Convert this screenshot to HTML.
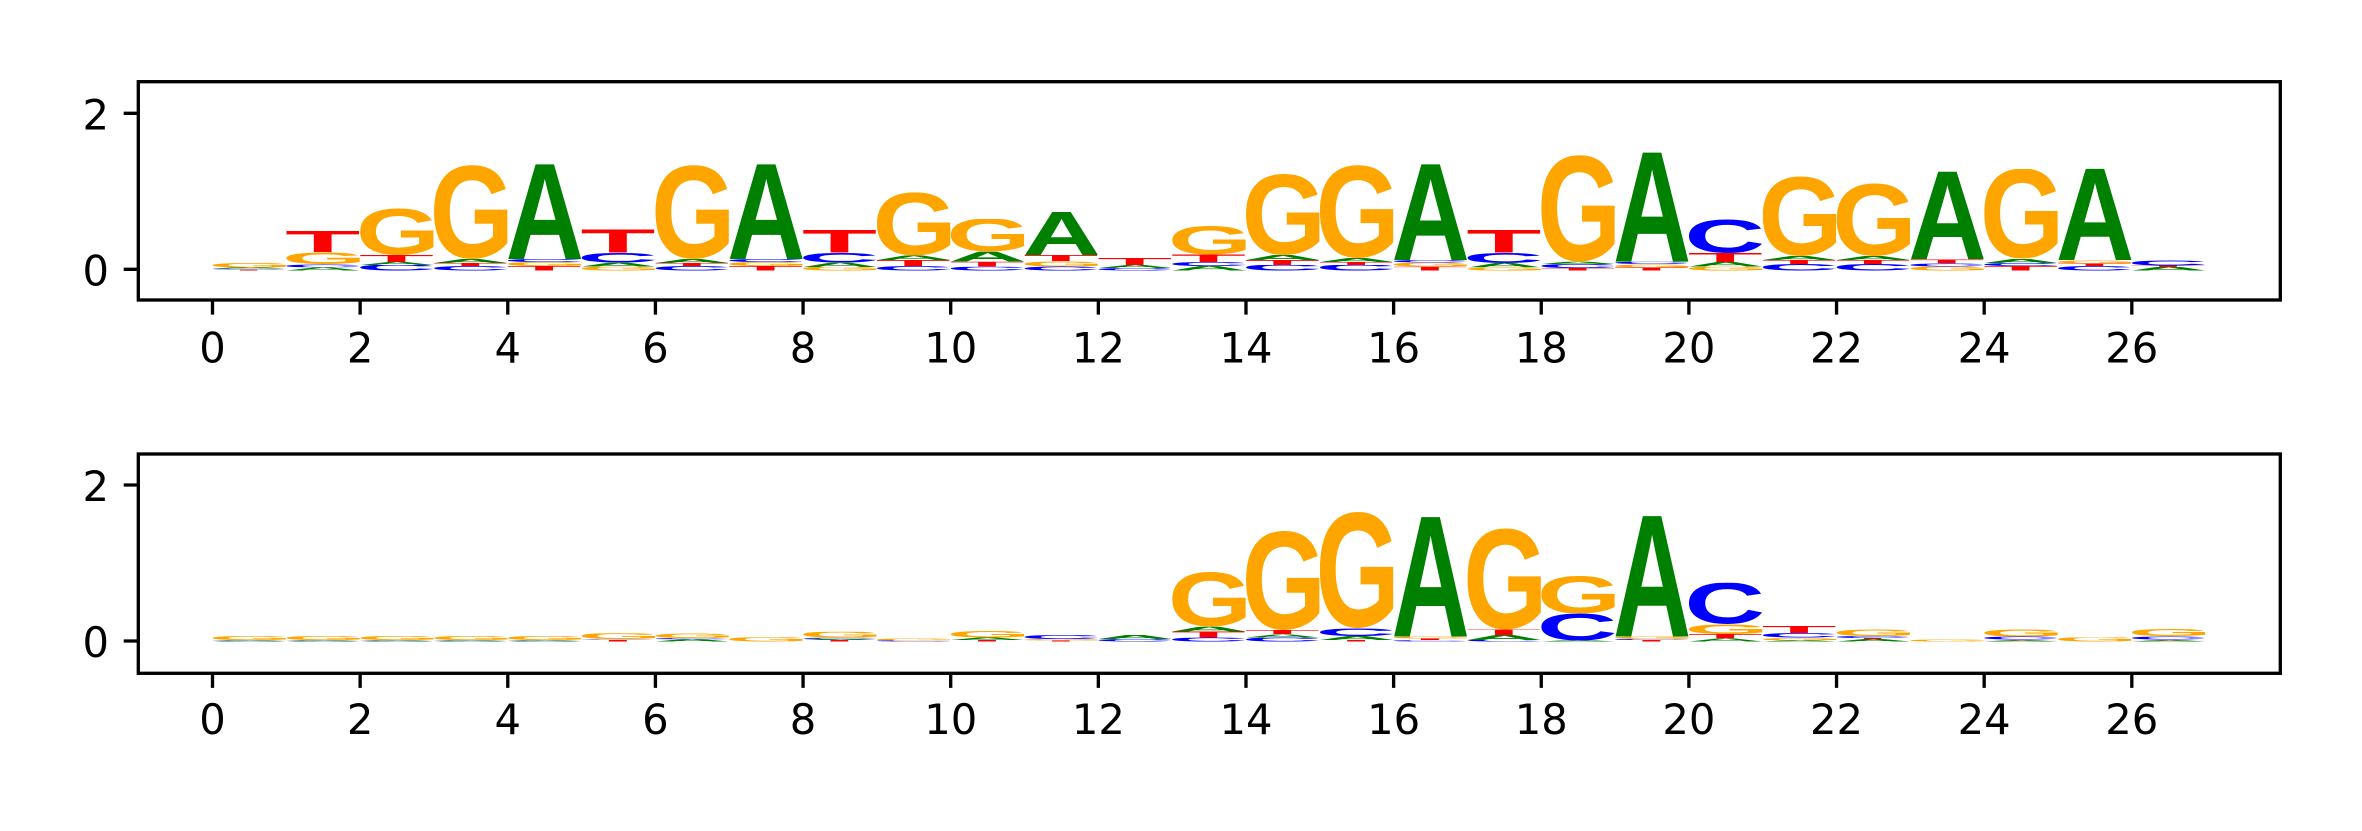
<!DOCTYPE html>
<html><head><meta charset="utf-8">
<style>
html,body{margin:0;padding:0;background:#fff;}
body{width:2362px;height:826px;overflow:hidden;}
svg svg text{font-family:"Liberation Sans",Arial,sans-serif;font-weight:bold;font-size:100px;}
svg.a text{fill:#008000} svg.c text{fill:#0000ff} svg.g text{fill:#ffa500} svg.t text{fill:#ff0000}
.lbl{font-family:"DejaVu Sans","Liberation Sans",sans-serif;font-size:41.67px;fill:#000;}
</style></head><body>
<svg xmlns="http://www.w3.org/2000/svg" width="2362" height="826" viewBox="0 0 2362 826">
<rect width="2362" height="826" fill="#fff"/>
<!-- TOP PANEL LOGO -->
<svg class="t" x="212.5" y="269.7" width="73.82" height="1" viewBox="2 -71.6 57 71.6" preserveAspectRatio="none"><text>T</text></svg>
<svg class="c" x="212.5" y="268.7" width="73.82" height="1" viewBox="4.7 -72.8 62.8 74.2" preserveAspectRatio="none"><text>C</text></svg>
<svg class="a" x="212.5" y="267.5" width="73.82" height="1.2" viewBox="0 -71.6 72.2 71.6" preserveAspectRatio="none"><text>A</text></svg>
<svg class="g" x="212.5" y="262.7" width="73.82" height="4.8" viewBox="4.6 -72.8 67.3 74.2" preserveAspectRatio="none"><text>G</text></svg>

<svg class="a" x="286.32" y="267.3" width="73.82" height="3.4" viewBox="0 -71.6 72.2 71.6" preserveAspectRatio="none"><text>A</text></svg>
<svg class="c" x="286.32" y="264" width="73.82" height="3.3" viewBox="4.7 -72.8 62.8 74.2" preserveAspectRatio="none"><text>C</text></svg>
<svg class="g" x="286.32" y="252" width="73.82" height="12" viewBox="4.6 -72.8 67.3 74.2" preserveAspectRatio="none"><text>G</text></svg>
<svg class="t" x="286.32" y="230.7" width="73.82" height="21.3" viewBox="2 -71.6 57 71.6" preserveAspectRatio="none"><text>T</text></svg>

<svg class="c" x="360.14" y="265" width="73.82" height="5.7" viewBox="4.7 -72.8 62.8 74.2" preserveAspectRatio="none"><text>C</text></svg>
<svg class="a" x="360.14" y="262" width="73.82" height="3" viewBox="0 -71.6 72.2 71.6" preserveAspectRatio="none"><text>A</text></svg>
<svg class="t" x="360.14" y="255" width="73.82" height="7" viewBox="2 -71.6 57 71.6" preserveAspectRatio="none"><text>T</text></svg>
<svg class="g" x="360.14" y="208.3" width="73.82" height="46.7" viewBox="4.6 -72.8 67.3 74.2" preserveAspectRatio="none"><text>G</text></svg>

<svg class="c" x="433.96" y="266" width="73.82" height="4.7" viewBox="4.7 -72.8 62.8 74.2" preserveAspectRatio="none"><text>C</text></svg>
<svg class="t" x="433.96" y="263" width="73.82" height="3" viewBox="2 -71.6 57 71.6" preserveAspectRatio="none"><text>T</text></svg>
<svg class="a" x="433.96" y="259" width="73.82" height="4" viewBox="0 -71.6 72.2 71.6" preserveAspectRatio="none"><text>A</text></svg>
<svg class="g" x="433.96" y="165" width="73.82" height="94" viewBox="4.6 -72.8 67.3 74.2" preserveAspectRatio="none"><text>G</text></svg>

<svg class="t" x="507.78" y="266" width="73.82" height="4.7" viewBox="2 -71.6 57 71.6" preserveAspectRatio="none"><text>T</text></svg>
<svg class="g" x="507.78" y="262" width="73.82" height="4" viewBox="4.6 -72.8 67.3 74.2" preserveAspectRatio="none"><text>G</text></svg>
<svg class="c" x="507.78" y="259" width="73.82" height="3" viewBox="4.7 -72.8 62.8 74.2" preserveAspectRatio="none"><text>C</text></svg>
<svg class="a" x="507.78" y="162.7" width="73.82" height="96.3" viewBox="0 -71.6 72.2 71.6" preserveAspectRatio="none"><text>A</text></svg>

<svg class="g" x="581.6" y="266.7" width="73.82" height="4" viewBox="4.6 -72.8 67.3 74.2" preserveAspectRatio="none"><text>G</text></svg>
<svg class="a" x="581.6" y="262.7" width="73.82" height="4" viewBox="0 -71.6 72.2 71.6" preserveAspectRatio="none"><text>A</text></svg>
<svg class="c" x="581.6" y="252.7" width="73.82" height="10" viewBox="4.7 -72.8 62.8 74.2" preserveAspectRatio="none"><text>C</text></svg>
<svg class="t" x="581.6" y="229.3" width="73.82" height="23.4" viewBox="2 -71.6 57 71.6" preserveAspectRatio="none"><text>T</text></svg>

<svg class="c" x="655.42" y="266" width="73.82" height="4.7" viewBox="4.7 -72.8 62.8 74.2" preserveAspectRatio="none"><text>C</text></svg>
<svg class="t" x="655.42" y="263" width="73.82" height="3" viewBox="2 -71.6 57 71.6" preserveAspectRatio="none"><text>T</text></svg>
<svg class="a" x="655.42" y="259" width="73.82" height="4" viewBox="0 -71.6 72.2 71.6" preserveAspectRatio="none"><text>A</text></svg>
<svg class="g" x="655.42" y="165" width="73.82" height="94" viewBox="4.6 -72.8 67.3 74.2" preserveAspectRatio="none"><text>G</text></svg>

<svg class="t" x="729.24" y="266" width="73.82" height="4.7" viewBox="2 -71.6 57 71.6" preserveAspectRatio="none"><text>T</text></svg>
<svg class="g" x="729.24" y="262" width="73.82" height="4" viewBox="4.6 -72.8 67.3 74.2" preserveAspectRatio="none"><text>G</text></svg>
<svg class="c" x="729.24" y="259" width="73.82" height="3" viewBox="4.7 -72.8 62.8 74.2" preserveAspectRatio="none"><text>C</text></svg>
<svg class="a" x="729.24" y="162.7" width="73.82" height="96.3" viewBox="0 -71.6 72.2 71.6" preserveAspectRatio="none"><text>A</text></svg>

<svg class="g" x="803.06" y="267" width="73.82" height="3.7" viewBox="4.6 -72.8 67.3 74.2" preserveAspectRatio="none"><text>G</text></svg>
<svg class="a" x="803.06" y="262.7" width="73.82" height="4.3" viewBox="0 -71.6 72.2 71.6" preserveAspectRatio="none"><text>A</text></svg>
<svg class="c" x="803.06" y="252.7" width="73.82" height="10" viewBox="4.7 -72.8 62.8 74.2" preserveAspectRatio="none"><text>C</text></svg>
<svg class="t" x="803.06" y="230" width="73.82" height="22.7" viewBox="2 -71.6 57 71.6" preserveAspectRatio="none"><text>T</text></svg>

<svg class="c" x="876.88" y="266" width="73.82" height="4.7" viewBox="4.7 -72.8 62.8 74.2" preserveAspectRatio="none"><text>C</text></svg>
<svg class="t" x="876.88" y="260" width="73.82" height="6" viewBox="2 -71.6 57 71.6" preserveAspectRatio="none"><text>T</text></svg>
<svg class="a" x="876.88" y="255.5" width="73.82" height="4.5" viewBox="0 -71.6 72.2 71.6" preserveAspectRatio="none"><text>A</text></svg>
<svg class="g" x="876.88" y="192.3" width="73.82" height="63.2" viewBox="4.6 -72.8 67.3 74.2" preserveAspectRatio="none"><text>G</text></svg>

<svg class="c" x="950.7" y="266.7" width="73.82" height="4" viewBox="4.7 -72.8 62.8 74.2" preserveAspectRatio="none"><text>C</text></svg>
<svg class="t" x="950.7" y="261.7" width="73.82" height="5" viewBox="2 -71.6 57 71.6" preserveAspectRatio="none"><text>T</text></svg>
<svg class="a" x="950.7" y="251.7" width="73.82" height="10" viewBox="0 -71.6 72.2 71.6" preserveAspectRatio="none"><text>A</text></svg>
<svg class="g" x="950.7" y="219" width="73.82" height="32.7" viewBox="4.6 -72.8 67.3 74.2" preserveAspectRatio="none"><text>G</text></svg>

<svg class="c" x="1024.52" y="266.5" width="73.82" height="4.2" viewBox="4.7 -72.8 62.8 74.2" preserveAspectRatio="none"><text>C</text></svg>
<svg class="g" x="1024.52" y="261" width="73.82" height="5.5" viewBox="4.6 -72.8 67.3 74.2" preserveAspectRatio="none"><text>G</text></svg>
<svg class="t" x="1024.52" y="255" width="73.82" height="6" viewBox="2 -71.6 57 71.6" preserveAspectRatio="none"><text>T</text></svg>
<svg class="a" x="1024.52" y="211.7" width="73.82" height="43.3" viewBox="0 -71.6 72.2 71.6" preserveAspectRatio="none"><text>A</text></svg>

<svg class="c" x="1098.34" y="268" width="73.82" height="2.7" viewBox="4.7 -72.8 62.8 74.2" preserveAspectRatio="none"><text>C</text></svg>
<svg class="a" x="1098.34" y="265" width="73.82" height="3" viewBox="0 -71.6 72.2 71.6" preserveAspectRatio="none"><text>A</text></svg>
<svg class="t" x="1098.34" y="257.7" width="73.82" height="7.3" viewBox="2 -71.6 57 71.6" preserveAspectRatio="none"><text>T</text></svg>

<svg class="a" x="1172.16" y="266" width="73.82" height="4.7" viewBox="0 -71.6 72.2 71.6" preserveAspectRatio="none"><text>A</text></svg>
<svg class="c" x="1172.16" y="262" width="73.82" height="4" viewBox="4.7 -72.8 62.8 74.2" preserveAspectRatio="none"><text>C</text></svg>
<svg class="t" x="1172.16" y="254.5" width="73.82" height="7.5" viewBox="2 -71.6 57 71.6" preserveAspectRatio="none"><text>T</text></svg>
<svg class="g" x="1172.16" y="226" width="73.82" height="28.5" viewBox="4.6 -72.8 67.3 74.2" preserveAspectRatio="none"><text>G</text></svg>

<svg class="c" x="1245.98" y="265" width="73.82" height="5.7" viewBox="4.7 -72.8 62.8 74.2" preserveAspectRatio="none"><text>C</text></svg>
<svg class="t" x="1245.98" y="260" width="73.82" height="5" viewBox="2 -71.6 57 71.6" preserveAspectRatio="none"><text>T</text></svg>
<svg class="a" x="1245.98" y="255" width="73.82" height="5" viewBox="0 -71.6 72.2 71.6" preserveAspectRatio="none"><text>A</text></svg>
<svg class="g" x="1245.98" y="174" width="73.82" height="81" viewBox="4.6 -72.8 67.3 74.2" preserveAspectRatio="none"><text>G</text></svg>

<svg class="c" x="1319.8" y="265" width="73.82" height="5.7" viewBox="4.7 -72.8 62.8 74.2" preserveAspectRatio="none"><text>C</text></svg>
<svg class="t" x="1319.8" y="262" width="73.82" height="3" viewBox="2 -71.6 57 71.6" preserveAspectRatio="none"><text>T</text></svg>
<svg class="a" x="1319.8" y="258" width="73.82" height="4" viewBox="0 -71.6 72.2 71.6" preserveAspectRatio="none"><text>A</text></svg>
<svg class="g" x="1319.8" y="165" width="73.82" height="93" viewBox="4.6 -72.8 67.3 74.2" preserveAspectRatio="none"><text>G</text></svg>

<svg class="t" x="1393.62" y="266.7" width="73.82" height="4" viewBox="2 -71.6 57 71.6" preserveAspectRatio="none"><text>T</text></svg>
<svg class="g" x="1393.62" y="262.7" width="73.82" height="4" viewBox="4.6 -72.8 67.3 74.2" preserveAspectRatio="none"><text>G</text></svg>
<svg class="c" x="1393.62" y="260" width="73.82" height="2.7" viewBox="4.7 -72.8 62.8 74.2" preserveAspectRatio="none"><text>C</text></svg>
<svg class="a" x="1393.62" y="162.7" width="73.82" height="97.3" viewBox="0 -71.6 72.2 71.6" preserveAspectRatio="none"><text>A</text></svg>

<svg class="g" x="1467.44" y="267.3" width="73.82" height="3.4" viewBox="4.6 -72.8 67.3 74.2" preserveAspectRatio="none"><text>G</text></svg>
<svg class="a" x="1467.44" y="263" width="73.82" height="4.3" viewBox="0 -71.6 72.2 71.6" preserveAspectRatio="none"><text>A</text></svg>
<svg class="c" x="1467.44" y="252.7" width="73.82" height="10.3" viewBox="4.7 -72.8 62.8 74.2" preserveAspectRatio="none"><text>C</text></svg>
<svg class="t" x="1467.44" y="230" width="73.82" height="22.7" viewBox="2 -71.6 57 71.6" preserveAspectRatio="none"><text>T</text></svg>

<svg class="t" x="1541.26" y="268" width="73.82" height="2.7" viewBox="2 -71.6 57 71.6" preserveAspectRatio="none"><text>T</text></svg>
<svg class="c" x="1541.26" y="264" width="73.82" height="4" viewBox="4.7 -72.8 62.8 74.2" preserveAspectRatio="none"><text>C</text></svg>
<svg class="a" x="1541.26" y="261.7" width="73.82" height="2.3" viewBox="0 -71.6 72.2 71.6" preserveAspectRatio="none"><text>A</text></svg>
<svg class="g" x="1541.26" y="155" width="73.82" height="106.7" viewBox="4.6 -72.8 67.3 74.2" preserveAspectRatio="none"><text>G</text></svg>

<svg class="t" x="1615.08" y="267.3" width="73.82" height="3.4" viewBox="2 -71.6 57 71.6" preserveAspectRatio="none"><text>T</text></svg>
<svg class="g" x="1615.08" y="264" width="73.82" height="3.3" viewBox="4.6 -72.8 67.3 74.2" preserveAspectRatio="none"><text>G</text></svg>
<svg class="c" x="1615.08" y="261.7" width="73.82" height="2.3" viewBox="4.7 -72.8 62.8 74.2" preserveAspectRatio="none"><text>C</text></svg>
<svg class="a" x="1615.08" y="150.7" width="73.82" height="111" viewBox="0 -71.6 72.2 71.6" preserveAspectRatio="none"><text>A</text></svg>

<svg class="g" x="1688.9" y="266.7" width="73.82" height="4" viewBox="4.6 -72.8 67.3 74.2" preserveAspectRatio="none"><text>G</text></svg>
<svg class="a" x="1688.9" y="262" width="73.82" height="4.7" viewBox="0 -71.6 72.2 71.6" preserveAspectRatio="none"><text>A</text></svg>
<svg class="t" x="1688.9" y="253" width="73.82" height="9" viewBox="2 -71.6 57 71.6" preserveAspectRatio="none"><text>T</text></svg>
<svg class="c" x="1688.9" y="219.3" width="73.82" height="33.7" viewBox="4.7 -72.8 62.8 74.2" preserveAspectRatio="none"><text>C</text></svg>

<svg class="c" x="1762.72" y="264" width="73.82" height="6.7" viewBox="4.7 -72.8 62.8 74.2" preserveAspectRatio="none"><text>C</text></svg>
<svg class="t" x="1762.72" y="260" width="73.82" height="4" viewBox="2 -71.6 57 71.6" preserveAspectRatio="none"><text>T</text></svg>
<svg class="a" x="1762.72" y="256" width="73.82" height="4" viewBox="0 -71.6 72.2 71.6" preserveAspectRatio="none"><text>A</text></svg>
<svg class="g" x="1762.72" y="176" width="73.82" height="80" viewBox="4.6 -72.8 67.3 74.2" preserveAspectRatio="none"><text>G</text></svg>

<svg class="c" x="1836.54" y="264" width="73.82" height="6.7" viewBox="4.7 -72.8 62.8 74.2" preserveAspectRatio="none"><text>C</text></svg>
<svg class="t" x="1836.54" y="260" width="73.82" height="4" viewBox="2 -71.6 57 71.6" preserveAspectRatio="none"><text>T</text></svg>
<svg class="a" x="1836.54" y="256" width="73.82" height="4" viewBox="0 -71.6 72.2 71.6" preserveAspectRatio="none"><text>A</text></svg>
<svg class="g" x="1836.54" y="183.3" width="73.82" height="72.7" viewBox="4.6 -72.8 67.3 74.2" preserveAspectRatio="none"><text>G</text></svg>

<svg class="g" x="1910.36" y="266.7" width="73.82" height="4" viewBox="4.6 -72.8 67.3 74.2" preserveAspectRatio="none"><text>G</text></svg>
<svg class="c" x="1910.36" y="263.3" width="73.82" height="3.4" viewBox="4.7 -72.8 62.8 74.2" preserveAspectRatio="none"><text>C</text></svg>
<svg class="t" x="1910.36" y="259.3" width="73.82" height="4" viewBox="2 -71.6 57 71.6" preserveAspectRatio="none"><text>T</text></svg>
<svg class="a" x="1910.36" y="170" width="73.82" height="89.3" viewBox="0 -71.6 72.2 71.6" preserveAspectRatio="none"><text>A</text></svg>

<svg class="t" x="1984.18" y="266" width="73.82" height="4.7" viewBox="2 -71.6 57 71.6" preserveAspectRatio="none"><text>T</text></svg>
<svg class="c" x="1984.18" y="263" width="73.82" height="3" viewBox="4.7 -72.8 62.8 74.2" preserveAspectRatio="none"><text>C</text></svg>
<svg class="a" x="1984.18" y="259" width="73.82" height="4" viewBox="0 -71.6 72.2 71.6" preserveAspectRatio="none"><text>A</text></svg>
<svg class="g" x="1984.18" y="169" width="73.82" height="90" viewBox="4.6 -72.8 67.3 74.2" preserveAspectRatio="none"><text>G</text></svg>

<svg class="c" x="2058" y="266" width="73.82" height="4.7" viewBox="4.7 -72.8 62.8 74.2" preserveAspectRatio="none"><text>C</text></svg>
<svg class="t" x="2058" y="263.3" width="73.82" height="2.7" viewBox="2 -71.6 57 71.6" preserveAspectRatio="none"><text>T</text></svg>
<svg class="g" x="2058" y="260" width="73.82" height="3.3" viewBox="4.6 -72.8 67.3 74.2" preserveAspectRatio="none"><text>G</text></svg>
<svg class="a" x="2058" y="167.3" width="73.82" height="92.7" viewBox="0 -71.6 72.2 71.6" preserveAspectRatio="none"><text>A</text></svg>

<svg class="a" x="2131.82" y="267" width="73.82" height="3.7" viewBox="0 -71.6 72.2 71.6" preserveAspectRatio="none"><text>A</text></svg>
<svg class="t" x="2131.82" y="265.5" width="73.82" height="1.5" viewBox="2 -71.6 57 71.6" preserveAspectRatio="none"><text>T</text></svg>
<svg class="c" x="2131.82" y="260" width="73.82" height="5.5" viewBox="4.7 -72.8 62.8 74.2" preserveAspectRatio="none"><text>C</text></svg>

<!-- BOTTOM PANEL LOGO -->
<svg class="a" x="212.5" y="640.7" width="73.82" height="1" viewBox="0 -71.6 72.2 71.6" preserveAspectRatio="none"><text>A</text></svg>
<svg class="c" x="212.5" y="640" width="73.82" height="0.7" viewBox="4.7 -72.8 62.8 74.2" preserveAspectRatio="none"><text>C</text></svg>
<svg class="g" x="212.5" y="636" width="73.82" height="4" viewBox="4.6 -72.8 67.3 74.2" preserveAspectRatio="none"><text>G</text></svg>
<svg class="a" x="286.32" y="640.7" width="73.82" height="1" viewBox="0 -71.6 72.2 71.6" preserveAspectRatio="none"><text>A</text></svg>
<svg class="c" x="286.32" y="640" width="73.82" height="0.7" viewBox="4.7 -72.8 62.8 74.2" preserveAspectRatio="none"><text>C</text></svg>
<svg class="g" x="286.32" y="636" width="73.82" height="4" viewBox="4.6 -72.8 67.3 74.2" preserveAspectRatio="none"><text>G</text></svg>
<svg class="a" x="360.14" y="640.7" width="73.82" height="1" viewBox="0 -71.6 72.2 71.6" preserveAspectRatio="none"><text>A</text></svg>
<svg class="c" x="360.14" y="640" width="73.82" height="0.7" viewBox="4.7 -72.8 62.8 74.2" preserveAspectRatio="none"><text>C</text></svg>
<svg class="g" x="360.14" y="636" width="73.82" height="4" viewBox="4.6 -72.8 67.3 74.2" preserveAspectRatio="none"><text>G</text></svg>
<svg class="a" x="433.96" y="640.7" width="73.82" height="1" viewBox="0 -71.6 72.2 71.6" preserveAspectRatio="none"><text>A</text></svg>
<svg class="c" x="433.96" y="640" width="73.82" height="0.7" viewBox="4.7 -72.8 62.8 74.2" preserveAspectRatio="none"><text>C</text></svg>
<svg class="g" x="433.96" y="636" width="73.82" height="4" viewBox="4.6 -72.8 67.3 74.2" preserveAspectRatio="none"><text>G</text></svg>
<svg class="a" x="507.78" y="640.7" width="73.82" height="1" viewBox="0 -71.6 72.2 71.6" preserveAspectRatio="none"><text>A</text></svg>
<svg class="c" x="507.78" y="640" width="73.82" height="0.7" viewBox="4.7 -72.8 62.8 74.2" preserveAspectRatio="none"><text>C</text></svg>
<svg class="g" x="507.78" y="636" width="73.82" height="4" viewBox="4.6 -72.8 67.3 74.2" preserveAspectRatio="none"><text>G</text></svg>

<svg class="t" x="581.6" y="640" width="73.82" height="1.7" viewBox="2 -71.6 57 71.6" preserveAspectRatio="none"><text>T</text></svg>
<svg class="c" x="581.6" y="639.3" width="73.82" height="0.7" viewBox="4.7 -72.8 62.8 74.2" preserveAspectRatio="none"><text>C</text></svg>
<svg class="g" x="581.6" y="633.3" width="73.82" height="6" viewBox="4.6 -72.8 67.3 74.2" preserveAspectRatio="none"><text>G</text></svg>

<svg class="a" x="655.42" y="639.3" width="73.82" height="2.4" viewBox="0 -71.6 72.2 71.6" preserveAspectRatio="none"><text>A</text></svg>
<svg class="c" x="655.42" y="638" width="73.82" height="1.3" viewBox="4.7 -72.8 62.8 74.2" preserveAspectRatio="none"><text>C</text></svg>
<svg class="g" x="655.42" y="633.3" width="73.82" height="4.7" viewBox="4.6 -72.8 67.3 74.2" preserveAspectRatio="none"><text>G</text></svg>

<svg class="g" x="729.24" y="637.3" width="73.82" height="4.4" viewBox="4.6 -72.8 67.3 74.2" preserveAspectRatio="none"><text>G</text></svg>

<svg class="t" x="803.06" y="640" width="73.82" height="1.7" viewBox="2 -71.6 57 71.6" preserveAspectRatio="none"><text>T</text></svg>
<svg class="a" x="803.06" y="639" width="73.82" height="1" viewBox="0 -71.6 72.2 71.6" preserveAspectRatio="none"><text>A</text></svg>
<svg class="c" x="803.06" y="637.7" width="73.82" height="1.3" viewBox="4.7 -72.8 62.8 74.2" preserveAspectRatio="none"><text>C</text></svg>
<svg class="g" x="803.06" y="631.7" width="73.82" height="6" viewBox="4.6 -72.8 67.3 74.2" preserveAspectRatio="none"><text>G</text></svg>

<svg class="c" x="876.88" y="640.5" width="73.82" height="1.2" viewBox="4.7 -72.8 62.8 74.2" preserveAspectRatio="none"><text>C</text></svg>
<svg class="g" x="876.88" y="638.3" width="73.82" height="2.2" viewBox="4.6 -72.8 67.3 74.2" preserveAspectRatio="none"><text>G</text></svg>

<svg class="t" x="950.7" y="640" width="73.82" height="1.7" viewBox="2 -71.6 57 71.6" preserveAspectRatio="none"><text>T</text></svg>
<svg class="a" x="950.7" y="637.5" width="73.82" height="2.5" viewBox="0 -71.6 72.2 71.6" preserveAspectRatio="none"><text>A</text></svg>
<svg class="g" x="950.7" y="630.7" width="73.82" height="6.8" viewBox="4.6 -72.8 67.3 74.2" preserveAspectRatio="none"><text>G</text></svg>

<svg class="t" x="1024.52" y="640.5" width="73.82" height="1.2" viewBox="2 -71.6 57 71.6" preserveAspectRatio="none"><text>T</text></svg>
<svg class="g" x="1024.52" y="639" width="73.82" height="1.5" viewBox="4.6 -72.8 67.3 74.2" preserveAspectRatio="none"><text>G</text></svg>
<svg class="c" x="1024.52" y="635" width="73.82" height="4" viewBox="4.7 -72.8 62.8 74.2" preserveAspectRatio="none"><text>C</text></svg>

<svg class="c" x="1098.34" y="639" width="73.82" height="2.7" viewBox="4.7 -72.8 62.8 74.2" preserveAspectRatio="none"><text>C</text></svg>
<svg class="a" x="1098.34" y="635" width="73.82" height="4" viewBox="0 -71.6 72.2 71.6" preserveAspectRatio="none"><text>A</text></svg>

<svg class="c" x="1172.16" y="637.5" width="73.82" height="4.2" viewBox="4.7 -72.8 62.8 74.2" preserveAspectRatio="none"><text>C</text></svg>
<svg class="t" x="1172.16" y="631.5" width="73.82" height="6" viewBox="2 -71.6 57 71.6" preserveAspectRatio="none"><text>T</text></svg>
<svg class="a" x="1172.16" y="626.7" width="73.82" height="4.8" viewBox="0 -71.6 72.2 71.6" preserveAspectRatio="none"><text>A</text></svg>
<svg class="g" x="1172.16" y="571.7" width="73.82" height="55" viewBox="4.6 -72.8 67.3 74.2" preserveAspectRatio="none"><text>G</text></svg>

<svg class="c" x="1245.98" y="637.5" width="73.82" height="4.2" viewBox="4.7 -72.8 62.8 74.2" preserveAspectRatio="none"><text>C</text></svg>
<svg class="a" x="1245.98" y="634" width="73.82" height="3.5" viewBox="0 -71.6 72.2 71.6" preserveAspectRatio="none"><text>A</text></svg>
<svg class="t" x="1245.98" y="630" width="73.82" height="4" viewBox="2 -71.6 57 71.6" preserveAspectRatio="none"><text>T</text></svg>
<svg class="g" x="1245.98" y="530.7" width="73.82" height="99.3" viewBox="4.6 -72.8 67.3 74.2" preserveAspectRatio="none"><text>G</text></svg>

<svg class="t" x="1319.8" y="640" width="73.82" height="1.7" viewBox="2 -71.6 57 71.6" preserveAspectRatio="none"><text>T</text></svg>
<svg class="a" x="1319.8" y="636" width="73.82" height="4" viewBox="0 -71.6 72.2 71.6" preserveAspectRatio="none"><text>A</text></svg>
<svg class="c" x="1319.8" y="628" width="73.82" height="8" viewBox="4.7 -72.8 62.8 74.2" preserveAspectRatio="none"><text>C</text></svg>
<svg class="g" x="1319.8" y="511.7" width="73.82" height="116.3" viewBox="4.6 -72.8 67.3 74.2" preserveAspectRatio="none"><text>G</text></svg>

<svg class="c" x="1393.62" y="640.2" width="73.82" height="1.5" viewBox="4.7 -72.8 62.8 74.2" preserveAspectRatio="none"><text>C</text></svg>
<svg class="t" x="1393.62" y="638.5" width="73.82" height="1.7" viewBox="2 -71.6 57 71.6" preserveAspectRatio="none"><text>T</text></svg>
<svg class="g" x="1393.62" y="636.5" width="73.82" height="2" viewBox="4.6 -72.8 67.3 74.2" preserveAspectRatio="none"><text>G</text></svg>
<svg class="a" x="1393.62" y="515" width="73.82" height="121.5" viewBox="0 -71.6 72.2 71.6" preserveAspectRatio="none"><text>A</text></svg>

<svg class="c" x="1467.44" y="640" width="73.82" height="1.7" viewBox="4.7 -72.8 62.8 74.2" preserveAspectRatio="none"><text>C</text></svg>
<svg class="a" x="1467.44" y="635" width="73.82" height="5" viewBox="0 -71.6 72.2 71.6" preserveAspectRatio="none"><text>A</text></svg>
<svg class="t" x="1467.44" y="629.5" width="73.82" height="5.5" viewBox="2 -71.6 57 71.6" preserveAspectRatio="none"><text>T</text></svg>
<svg class="g" x="1467.44" y="528.3" width="73.82" height="101.2" viewBox="4.6 -72.8 67.3 74.2" preserveAspectRatio="none"><text>G</text></svg>

<svg class="a" x="1541.26" y="640.5" width="73.82" height="1.2" viewBox="0 -71.6 72.2 71.6" preserveAspectRatio="none"><text>A</text></svg>
<svg class="c" x="1541.26" y="613.3" width="73.82" height="27.2" viewBox="4.7 -72.8 62.8 74.2" preserveAspectRatio="none"><text>C</text></svg>
<svg class="g" x="1541.26" y="576" width="73.82" height="37.3" viewBox="4.6 -72.8 67.3 74.2" preserveAspectRatio="none"><text>G</text></svg>

<svg class="t" x="1615.08" y="640" width="73.82" height="1.7" viewBox="2 -71.6 57 71.6" preserveAspectRatio="none"><text>T</text></svg>
<svg class="c" x="1615.08" y="639" width="73.82" height="1" viewBox="4.7 -72.8 62.8 74.2" preserveAspectRatio="none"><text>C</text></svg>
<svg class="g" x="1615.08" y="636.5" width="73.82" height="2.5" viewBox="4.6 -72.8 67.3 74.2" preserveAspectRatio="none"><text>G</text></svg>
<svg class="a" x="1615.08" y="514" width="73.82" height="122.5" viewBox="0 -71.6 72.2 71.6" preserveAspectRatio="none"><text>A</text></svg>

<svg class="a" x="1688.9" y="638.3" width="73.82" height="3.4" viewBox="0 -71.6 72.2 71.6" preserveAspectRatio="none"><text>A</text></svg>
<svg class="t" x="1688.9" y="634" width="73.82" height="4.3" viewBox="2 -71.6 57 71.6" preserveAspectRatio="none"><text>T</text></svg>
<svg class="g" x="1688.9" y="624" width="73.82" height="10" viewBox="4.6 -72.8 67.3 74.2" preserveAspectRatio="none"><text>G</text></svg>
<svg class="c" x="1688.9" y="582.7" width="73.82" height="41.3" viewBox="4.7 -72.8 62.8 74.2" preserveAspectRatio="none"><text>C</text></svg>

<svg class="a" x="1762.72" y="640.3" width="73.82" height="1.4" viewBox="0 -71.6 72.2 71.6" preserveAspectRatio="none"><text>A</text></svg>
<svg class="g" x="1762.72" y="637.5" width="73.82" height="2.8" viewBox="4.6 -72.8 67.3 74.2" preserveAspectRatio="none"><text>G</text></svg>
<svg class="c" x="1762.72" y="633" width="73.82" height="4.5" viewBox="4.7 -72.8 62.8 74.2" preserveAspectRatio="none"><text>C</text></svg>
<svg class="t" x="1762.72" y="626" width="73.82" height="7" viewBox="2 -71.6 57 71.6" preserveAspectRatio="none"><text>T</text></svg>

<svg class="a" x="1836.54" y="639" width="73.82" height="2.7" viewBox="0 -71.6 72.2 71.6" preserveAspectRatio="none"><text>A</text></svg>
<svg class="t" x="1836.54" y="638" width="73.82" height="1" viewBox="2 -71.6 57 71.6" preserveAspectRatio="none"><text>T</text></svg>
<svg class="c" x="1836.54" y="636" width="73.82" height="2" viewBox="4.7 -72.8 62.8 74.2" preserveAspectRatio="none"><text>C</text></svg>
<svg class="g" x="1836.54" y="629.3" width="73.82" height="6.7" viewBox="4.6 -72.8 67.3 74.2" preserveAspectRatio="none"><text>G</text></svg>

<svg class="g" x="1910.36" y="639.5" width="73.82" height="2.2" viewBox="4.6 -72.8 67.3 74.2" preserveAspectRatio="none"><text>G</text></svg>

<svg class="a" x="1984.18" y="640.3" width="73.82" height="1.4" viewBox="0 -71.6 72.2 71.6" preserveAspectRatio="none"><text>A</text></svg>
<svg class="t" x="1984.18" y="639.5" width="73.82" height="0.8" viewBox="2 -71.6 57 71.6" preserveAspectRatio="none"><text>T</text></svg>
<svg class="c" x="1984.18" y="636.5" width="73.82" height="3" viewBox="4.7 -72.8 62.8 74.2" preserveAspectRatio="none"><text>C</text></svg>
<svg class="g" x="1984.18" y="629.3" width="73.82" height="7.2" viewBox="4.6 -72.8 67.3 74.2" preserveAspectRatio="none"><text>G</text></svg>

<svg class="g" x="2058" y="637.5" width="73.82" height="4.2" viewBox="4.6 -72.8 67.3 74.2" preserveAspectRatio="none"><text>G</text></svg>

<svg class="a" x="2131.82" y="640.3" width="73.82" height="1.4" viewBox="0 -71.6 72.2 71.6" preserveAspectRatio="none"><text>A</text></svg>
<svg class="t" x="2131.82" y="639.5" width="73.82" height="0.8" viewBox="2 -71.6 57 71.6" preserveAspectRatio="none"><text>T</text></svg>
<svg class="c" x="2131.82" y="636" width="73.82" height="3.5" viewBox="4.7 -72.8 62.8 74.2" preserveAspectRatio="none"><text>C</text></svg>
<svg class="g" x="2131.82" y="628.7" width="73.82" height="7.3" viewBox="4.6 -72.8 67.3 74.2" preserveAspectRatio="none"><text>G</text></svg>

<!-- AXES -->
<g fill="none" stroke="#000" stroke-width="3.33" stroke-linecap="butt">
<rect x="138.3" y="81.7" width="2142" height="218.3"/>
<rect x="138.3" y="454" width="2142" height="219.3"/>
<path d="M212.5 300v14.6M360.14 300v14.6M507.78 300v14.6M655.42 300v14.6M803.06 300v14.6M950.7 300v14.6M1098.34 300v14.6M1245.98 300v14.6M1393.62 300v14.6M1541.26 300v14.6M1688.9 300v14.6M1836.54 300v14.6M1984.18 300v14.6M2131.82 300v14.6"/>
<path d="M212.5 673.3v14.6M360.14 673.3v14.6M507.78 673.3v14.6M655.42 673.3v14.6M803.06 673.3v14.6M950.7 673.3v14.6M1098.34 673.3v14.6M1245.98 673.3v14.6M1393.62 673.3v14.6M1541.26 673.3v14.6M1688.9 673.3v14.6M1836.54 673.3v14.6M1984.18 673.3v14.6M2131.82 673.3v14.6"/>
<path d="M138.3 113.3h-14.6M138.3 269.3h-14.6M138.3 485h-14.6M138.3 641h-14.6"/>
</g>
<g class="lbl" text-anchor="end">
<text x="109" y="129.3">2</text>
<text x="109" y="285.3">0</text>
<text x="109" y="501">2</text>
<text x="109" y="657">0</text>
</g>
<g class="lbl" text-anchor="middle">
<text x="212.5" y="362.5">0</text><text x="360.14" y="362.5">2</text><text x="507.78" y="362.5">4</text><text x="655.42" y="362.5">6</text><text x="803.06" y="362.5">8</text><text x="950.7" y="362.5">10</text><text x="1098.34" y="362.5">12</text><text x="1245.98" y="362.5">14</text><text x="1393.62" y="362.5">16</text><text x="1541.26" y="362.5">18</text><text x="1688.9" y="362.5">20</text><text x="1836.54" y="362.5">22</text><text x="1984.18" y="362.5">24</text><text x="2131.82" y="362.5">26</text>
<text x="212.5" y="734">0</text><text x="360.14" y="734">2</text><text x="507.78" y="734">4</text><text x="655.42" y="734">6</text><text x="803.06" y="734">8</text><text x="950.7" y="734">10</text><text x="1098.34" y="734">12</text><text x="1245.98" y="734">14</text><text x="1393.62" y="734">16</text><text x="1541.26" y="734">18</text><text x="1688.9" y="734">20</text><text x="1836.54" y="734">22</text><text x="1984.18" y="734">24</text><text x="2131.82" y="734">26</text>
</g>
</svg>
<script>
(function(){
 function fix(){
  try{
   var c=document.createElement('canvas').getContext('2d');
   c.font='bold 100px "Liberation Sans", Arial, sans-serif';
   ['A','C','G','T'].forEach(function(L){
    var m=c.measureText(L);
    if(typeof m.actualBoundingBoxAscent!=='number')return;
    var l=-m.actualBoundingBoxLeft,r=m.actualBoundingBoxRight,t=-m.actualBoundingBoxAscent,b=m.actualBoundingBoxDescent;
    if(!(r-l>20&&b-t>40))return;
    var vb=l+' '+t+' '+(r-l)+' '+(b-t);
    var els=document.querySelectorAll('svg.'+L.toLowerCase());
    for(var i=0;i<els.length;i++)els[i].setAttribute('viewBox',vb);
   });
  }catch(e){}
 }
 fix();
 if(document.fonts&&document.fonts.ready)document.fonts.ready.then(fix);
})();
</script>
</body></html>
